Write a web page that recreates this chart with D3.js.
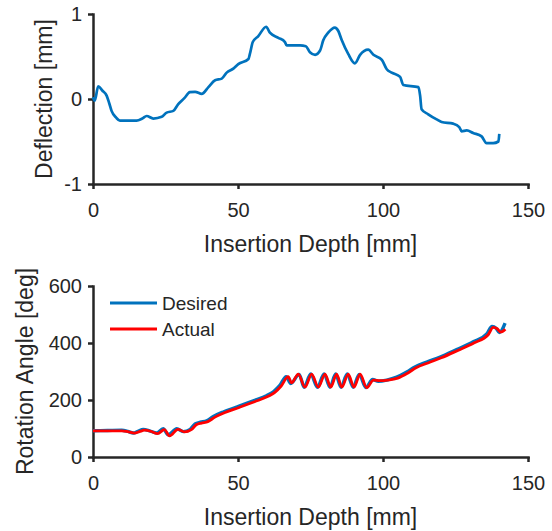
<!DOCTYPE html>
<meta charset="utf-8">
<html>
<head>
<title>Deflection and rotation vs insertion depth</title>
<script src="https://d3js.org/d3.v7.min.js"></script>
<style>
  body { margin: 0; background: #fff; }
  text { font-family: "Liberation Sans", Arial, Helvetica, sans-serif; fill: #262626; }
  .axis path, .axis line { stroke: #262626; stroke-width: 2.5; }
  .axis text { font-size: 20px; fill: #262626; }
</style>
</head>
<body>
<svg width="552" height="531"></svg>
<script>
// ---- data ----
var depthTicks = [0, 50, 100, 150];
var deflTicks = [-1, 0, 1];
var angleTicks = [0, 200, 400, 600];

// [insertion depth mm, deflection mm]
var deflection = [[0,0.02],[0.6,-0.02],[1.8,0.15],[3.2,0.1],[4.7,0.04],[5.6,-0.05],[6.4,-0.14],[8,-0.22],[9.3,-0.255],
  [12,-0.255],[15,-0.255],[17,-0.23],[18.5,-0.2],[20.8,-0.23],[23.7,-0.21],[25.4,-0.16],[27.7,-0.14],[29.4,-0.06],
  [31.5,0.01],[33.4,0.08],[35.2,0.085],[37.5,0.06],[39.8,0.14],[42.1,0.22],[44.4,0.24],[46.1,0.31],[48.5,0.36],
  [50.1,0.41],[53.6,0.47],[54.1,0.53],[55.1,0.67],[57,0.74],[59.7,0.85],[61,0.78],[63.9,0.72],[66.2,0.67],
  [66.8,0.63],[71.4,0.63],[73.4,0.62],[74.8,0.55],[76.6,0.52],[78.3,0.57],[79.4,0.69],[81.1,0.78],[83.4,0.84],
  [84.6,0.8],[85.8,0.69],[88,0.53],[90.3,0.42],[92.1,0.52],[94.9,0.58],[96.7,0.52],[99.6,0.46],[101.3,0.35],
  [103,0.31],[105.9,0.26],[107,0.165],[112.2,0.14],[112.8,0.04],[113.3,-0.12],[115.6,-0.18],[118.5,-0.24],
  [120.2,-0.27],[124.2,-0.29],[126.3,-0.33],[127.1,-0.38],[128.9,-0.37],[131.1,-0.4],[134,-0.44],[135.7,-0.52],
  [138,-0.52],[139.8,-0.5],[140.1,-0.41]];

// [insertion depth mm, rotation angle deg]
var desired = [[0,92],[5,93],[9.9,94],[12,90],[13.9,84],[15.5,90],[17.3,97],[19.5,92],[21.9,84],[24.2,99],[26,78],
  [28.9,99],[31.1,89],[33.5,97],[35.2,116],[37,122],[39.2,127],[41.5,142],[44.9,158],[49.5,175],[55.3,197],
  [60,216],[62.2,229],[64.5,252],[66.6,282],[68.2,258],[71.1,290],[72.8,245],[75.1,291],[77.4,245],[79.7,291],
  [81.7,245],[83.7,291],[85.5,245],[87.7,291],[89.7,245],[91.8,290],[94.1,244],[96.4,272],[98.4,266],[101.3,270],
  [104.7,280],[108.2,298],[111,316],[115.1,333],[119.7,351],[125.4,377],[131.1,404],[135.8,432],[137.6,458],
  [139,452],[140.1,437],[142.1,470]];

var actual = [[0,92],[5,92],[10,92],[12.3,88],[14.3,84],[16,89],[17.8,94],[20,90],[22.3,82],[24.6,96],[26.4,74],
  [29.3,97],[31.5,88],[33.9,96],[35.6,113],[37.4,119],[39.6,124],[41.9,139],[45.3,155],[49.9,172],[55.7,194],
  [60.4,213],[62.6,226],[64.9,249],[67.3,282],[68.5,260],[70.8,291],[73.1,245],[75.4,291],[77.7,245],[80,291],
  [82,245],[84,291],[85.8,245],[88,291],[90,245],[92.1,291],[94.4,243],[96.7,270],[99,268],[101.7,270],
  [105.1,277],[108.6,295],[111.4,313],[115.5,330],[120.1,348],[125.8,374],[131.5,401],[136.2,428],[138,455],
  [139.4,450],[140.6,438],[142.2,448]];

var seriesNames = ["Desired", "Actual"];
var seriesColors = ["#0072BD", "#FF0000"];

// ---- layout ----
var svg = d3.select("svg");
var x = d3.scaleLinear().domain([0, 150]).range([93, 528]);
var yTop = d3.scaleLinear().domain([-1, 1]).range([184, 14]);
var yBot = d3.scaleLinear().domain([0, 600]).range([457, 286]);
var plain = function(d) { return String(d); };

function drawAxes(y, yticks, yLabel, labelX) {
  var y0 = y.range()[0];
  var gx = svg.append("g").attr("class", "axis")
    .attr("transform", "translate(0," + y0 + ")")
    .call(d3.axisBottom(x).tickValues(depthTicks).tickFormat(plain)
      .tickSize(5).tickSizeOuter(0).tickPadding(14));
  var gy = svg.append("g").attr("class", "axis")
    .attr("transform", "translate(" + x.range()[0] + ",0)")
    .call(d3.axisLeft(y).tickValues(yticks).tickFormat(plain)
      .tickSize(5).tickSizeOuter(0).tickPadding(6));
  gx.selectAll("path").attr("stroke-linecap", "square");
  gy.selectAll("path").attr("stroke-linecap", "square");

  svg.append("text")
    .attr("x", (x.range()[0] + x.range()[1]) / 2)
    .attr("y", y0 + 68)
    .attr("text-anchor", "middle")
    .style("font-size", "23px")
    .text("Insertion Depth [mm]");

  svg.append("text")
    .attr("transform", "translate(" + labelX + "," + (y.range()[0] + y.range()[1]) / 2 + ") rotate(-90)")
    .attr("text-anchor", "middle")
    .style("font-size", "23px")
    .text(yLabel);
}

drawAxes(yTop, deflTicks, "Deflection [mm]", 52);
drawAxes(yBot, angleTicks, "Rotation Angle [deg]", 33);

// ---- top: deflection ----
var lineTop = d3.line().x(function(d) { return x(d[0]); }).y(function(d) { return yTop(d[1]); })
  .curve(d3.curveMonotoneX);
svg.append("path").datum(deflection)
  .attr("d", lineTop).attr("fill", "none")
  .attr("stroke", "#0072BD").attr("stroke-width", 2.7).attr("stroke-linejoin", "round");

// ---- bottom: rotation angle ----
var lineBot = d3.line().x(function(d) { return x(d[0]); }).y(function(d) { return yBot(d[1]); })
  .curve(d3.curveMonotoneX);
[desired, actual].forEach(function(s, i) {
  svg.append("path").datum(s)
    .attr("d", lineBot).attr("fill", "none")
    .attr("stroke", seriesColors[i]).attr("stroke-width", i == 0 ? 3.4 : 2.8)
    .attr("stroke-linejoin", "round");
});

// legend
var legend = svg.append("g");
seriesNames.forEach(function(name, i) {
  var ly = 303 + i * 26;
  legend.append("line").attr("x1", 110).attr("x2", 157).attr("y1", ly).attr("y2", ly)
    .attr("stroke", seriesColors[i]).attr("stroke-width", 3);
  legend.append("text").attr("x", 162).attr("y", ly + 7)
    .style("font-size", "19px").text(name);
});
</script>
</body>
</html>
